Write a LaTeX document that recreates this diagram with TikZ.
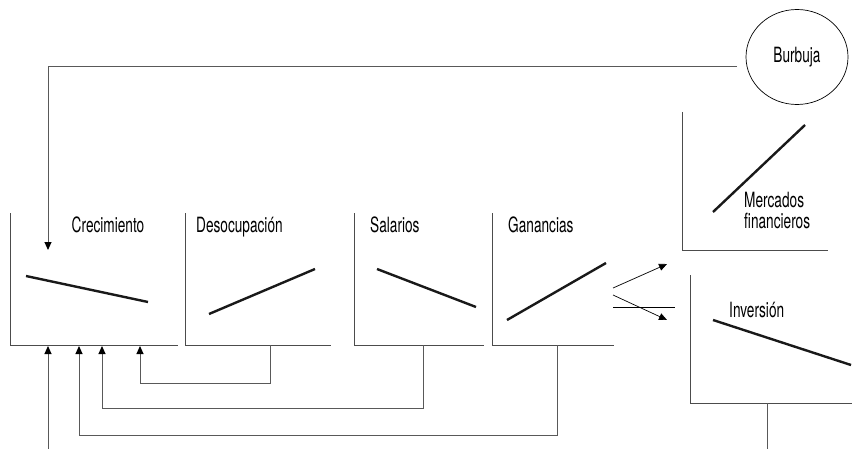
\documentclass[tikz,border=0pt]{standalone}
\usepackage{fontspec}
\setmainfont{TeX Gyre Heros}[FakeStretch=0.65]
\usetikzlibrary{arrows.meta,shapes.geometric}
\begin{document}
\begin{tikzpicture}[x=1pt,y=-1pt,
  axis/.style={draw=black!70, line width=1pt},
  curve/.style={draw=black!90, line width=2.4pt},
  fb/.style={draw=black!65, line width=1pt},
  arr/.style={-{Triangle[length=8pt,width=7pt,color=black]}},
  thinarr/.style={draw=black, line width=0.7pt, -{Triangle[length=8pt,width=7pt]}},
  lbl/.style={font=\fontsize{21}{19}\selectfont, inner sep=0pt},
]
\useasboundingbox (0,0) rectangle (858,449);

% Burbuja
\node[draw, ellipse, line width=0.7pt, minimum width=102pt, minimum height=95pt, inner sep=0pt, lbl] (bur) at (797,57) {Burbuja};
\coordinate (burin) at (737,67);
\coordinate (cretop) at (48,250);
\draw[fb, arr] (burin) -- (48,67) -- (cretop);

% Crecimiento
\draw[axis] (10,213) -- (10,345) -- (178,345);
\node[lbl, anchor=base] (crelbl) at (108,232) {Crecimiento};
\draw[curve] (26,276) -- (148,302);

% Desocupacion
\draw[axis] (185,213) -- (185,345) -- (331,345);
\node[lbl, anchor=base west] (deslbl) at (196,232) {Desocupación};
\draw[curve] (209,314) -- (315,269);

% Salarios
\draw[axis] (354,213) -- (354,345) -- (484,345);
\node[lbl, anchor=base west] (sallbl) at (370,232) {Salarios};
\draw[curve] (377,269) -- (476,307);

% Ganancias
\draw[axis] (492,213) -- (492,345) -- (614,345);
\node[lbl, anchor=base west] (ganlbl) at (508,232) {Ganancias};
\draw[curve] (507,320) -- (606,263);

% Mercados financieros
\draw[axis] (682,112) -- (682,250) -- (828,250);
\node[lbl, anchor=base west] (merlbl1) at (744,207) {Mercados};
\node[lbl, anchor=base west] (merlbl2) at (744,228) {financieros};
\draw[curve] (713,212) -- (805,125);

% Inversion
\draw[axis] (690,275) -- (690,403) -- (852,403);
\node[lbl, anchor=base west] (invlbl) at (729,317) {Inversión};
\draw[curve] (713,320) -- (851,365);

% arrows from Ganancias
\coordinate (g1) at (613,288);
\coordinate (g2) at (613,295);
\coordinate (mer) at (667,264);
\coordinate (inv) at (667,320);
\draw[thinarr] (g1) -- (mer);
\draw[thinarr] (g2) -- (inv);
\draw[black, line width=0.7pt] (613,307) -- (675,307);

% feedback loops
\coordinate (dfoot) at (270,345);
\coordinate (sfoot) at (423,345);
\coordinate (gfoot) at (557,345);
\coordinate (ifoot) at (767,403);
\draw[fb, arr] (dfoot) -- (270,383) -| (140,346);
\draw[fb, arr] (sfoot) -- (423,408) -| (102,346);
\draw[fb, arr] (gfoot) -- (557,435) -| (79,346);
\draw[fb] (ifoot) -- (767,449);
\draw[fb, arr] (48,449) -- (48,346);
\end{tikzpicture}
\end{document}
